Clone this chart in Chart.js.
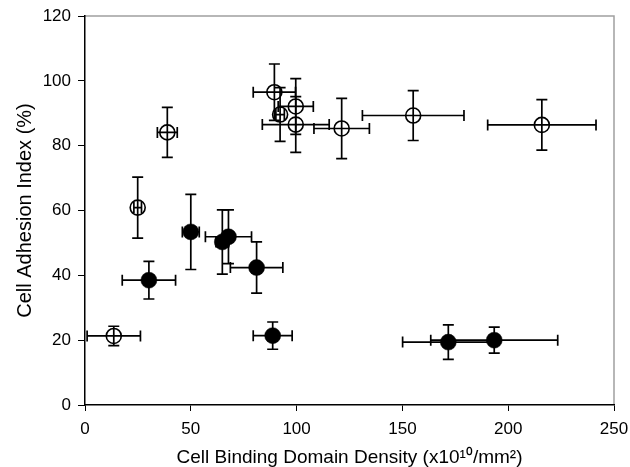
<!DOCTYPE html>
<html>
<head>
<meta charset="utf-8">
<script src="https://cdn.jsdelivr.net/npm/chart.js@4"></script>
<style>
  html, body { margin: 0; padding: 0; background: #fff; }
  #wrap { width: 630px; height: 467px; }
</style>
</head>
<body>
<div id="wrap"><canvas id="c" width="630" height="467"></canvas></div>
<script>
// Open circles series
const openX    = [13.6, 24.9, 38.9, 89.5, 92.2, 99.6, 99.6, 121.3, 155.1, 215.9];
const openY    = [21.3, 60.9, 84.1, 96.5, 89.6, 92.1, 86.5, 85.3, 89.3, 86.4];
const openXErr = [12.6, 1.8, 4.7, 10.0, 2.0, 8.3, 15.8, 13.1, 24.0, 25.6];
const openYErr = [3.0, 9.4, 7.7, 8.7, 8.3, 8.6, 8.6, 9.3, 7.7, 7.8];

// Filled circles series
const filledX    = [30.2, 50.0, 64.9, 67.8, 81.1, 88.7, 171.7, 193.4];
const filledY    = [38.5, 53.4, 50.3, 51.9, 42.4, 21.4, 19.4, 20.0];
const filledXErr = [12.6, 4.0, 3.0, 10.9, 12.4, 9.2, 21.6, 30.0];
const filledYErr = [5.8, 11.6, 9.9, 8.3, 7.9, 4.2, 5.3, 4.0];

// Axes
const xTitle = 'Cell Binding Domain Density (x10\u00B9\u2070/mm\u00B2)';
const yTitle = 'Cell Adhesion Index (%)';
const xMin = 0, xMax = 250, xStep = 50;
const yMin = 0, yMax = 120, yStep = 20;

function pts(xs, ys, xe, ye) {
  return xs.map((x, i) => ({ x: x, y: ys[i], xe: xe[i], ye: ye[i] }));
}

const errorBars = {
  id: 'errorBars',
  beforeDatasetsDraw(chart) {
    const ctx = chart.ctx, xs = chart.scales.x, ys = chart.scales.y;
    const cap = 5.5;
    ctx.save();
    ctx.strokeStyle = '#000';
    ctx.lineWidth = 1.7;
    chart.data.datasets.forEach(ds => {
      ds.data.forEach(p => {
        const cx = xs.getPixelForValue(p.x), cy = ys.getPixelForValue(p.y);
        const x1 = xs.getPixelForValue(p.x - p.xe), x2 = xs.getPixelForValue(p.x + p.xe);
        const y1 = ys.getPixelForValue(p.y - p.ye), y2 = ys.getPixelForValue(p.y + p.ye);
        ctx.beginPath();
        ctx.moveTo(x1, cy); ctx.lineTo(x2, cy);
        ctx.moveTo(x1, cy - cap); ctx.lineTo(x1, cy + cap);
        ctx.moveTo(x2, cy - cap); ctx.lineTo(x2, cy + cap);
        ctx.moveTo(cx, y1); ctx.lineTo(cx, y2);
        ctx.moveTo(cx - cap, y1); ctx.lineTo(cx + cap, y1);
        ctx.moveTo(cx - cap, y2); ctx.lineTo(cx + cap, y2);
        ctx.stroke();
      });
    });
    ctx.restore();
  }
};

const frame = {
  id: 'frame',
  beforeDraw(chart) {
    const a = chart.chartArea, ctx = chart.ctx;
    ctx.save();
    ctx.fillStyle = '#fff';
    ctx.fillRect(0, 0, chart.width, chart.height);
    ctx.strokeStyle = '#a0a0a0';
    ctx.lineWidth = 1.5;
    ctx.beginPath();
    ctx.moveTo(a.left, a.top); ctx.lineTo(a.right, a.top); ctx.lineTo(a.right, a.bottom);
    ctx.stroke();
    ctx.restore();
  }
};

const tickFont = { family: '"Liberation Sans", Arial, sans-serif', size: 17 };
const yTitleFont = { family: '"Liberation Sans", Arial, sans-serif', size: 20 };
const xTitleFont = { family: '"Liberation Sans", Arial, sans-serif', size: 19 };

new Chart(document.getElementById('c'), {
  type: 'scatter',
  data: {
    datasets: [
      {
        label: 'open',
        data: pts(openX, openY, openXErr, openYErr),
        pointRadius: 7.5,
        pointHoverRadius: 7.5,
        pointBackgroundColor: 'rgba(0,0,0,0)',
        pointBorderColor: '#000',
        pointBorderWidth: 1.6
      },
      {
        label: 'filled',
        data: pts(filledX, filledY, filledXErr, filledYErr),
        pointRadius: 8,
        pointHoverRadius: 8,
        pointBackgroundColor: '#000',
        pointBorderColor: '#000',
        pointBorderWidth: 0.5
      }
    ]
  },
  options: {
    responsive: false,
    animation: false,
    devicePixelRatio: 1,
    layout: { padding: { top: 16, right: 16, left: 0, bottom: 0 } },
    plugins: {
      legend: { display: false },
      tooltip: { enabled: false }
    },
    scales: {
      x: {
        type: 'linear',
        min: xMin, max: xMax,
        ticks: { stepSize: xStep, color: '#000', font: tickFont, padding: 8 },
        grid: { drawOnChartArea: false, drawTicks: true, tickLength: 6, color: '#000' },
        border: { display: true, color: '#000', width: 1.5 },
        title: { display: true, text: xTitle, color: '#000', font: xTitleFont, padding: { top: 0, bottom: -2 } },
        afterFit(s) { s.height = 62; s.paddingRight = 0; s.paddingLeft = 0; }
      },
      y: {
        type: 'linear',
        min: yMin, max: yMax,
        ticks: { stepSize: yStep, color: '#000', font: tickFont, padding: 7 },
        grid: { drawOnChartArea: false, drawTicks: true, tickLength: 7, color: '#000' },
        border: { display: true, color: '#000', width: 1.5 },
        title: { display: true, text: yTitle, color: '#000', font: yTitleFont, padding: { top: 13, bottom: 0 } },
        afterFit(s) { s.width = 85; s.paddingTop = 0; s.paddingBottom = 0; }
      }
    }
  },
  plugins: [frame, errorBars]
});
</script>
</body>
</html>
